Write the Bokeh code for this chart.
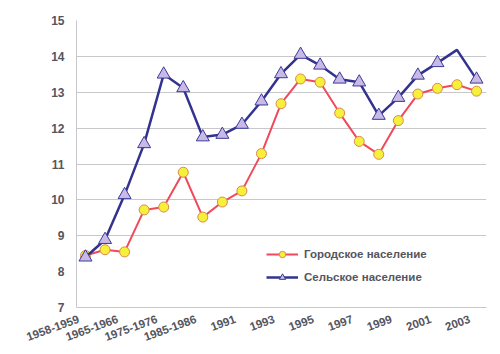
from bokeh.plotting import figure
from bokeh.models import FixedTicker, Legend, LegendItem, ColumnDataSource, Range1d
from bokeh.embed import file_html
from bokeh.resources import INLINE

periods = ["1958-1959", "", "1965-1966", "", "1975-1976", "", "1985-1986", "",
           "1991", "", "1993", "", "1995", "", "1997", "", "1999", "", "2001", "", "2003"]
urban = [8.45, 8.61, 8.55, 9.72, 9.80, 10.77, 9.52, 9.94, 10.25, 11.29, 12.68,
         13.37, 13.28, 12.42, 11.63, 11.27, 12.21, 12.95, 13.11, 13.21, 13.03]
rural = [8.40, 8.89, 10.14, 11.56, 13.50, 13.12, 11.75, 11.82, 12.10, 12.75, 13.51,
         14.05, 13.75, 13.36, 13.28, 12.35, 12.85, 13.47, 13.82, 14.18, 13.36]
rural_marked = [True] * 19 + [False, True]
y_ticks = [7, 8, 9, 10, 11, 12, 13, 14, 15]
series_names = ["Городское население", "Сельское население"]

x = list(range(len(periods)))
src = ColumnDataSource(dict(x=x, urban=urban, rural=rural))
mx = [xi for xi, m in zip(x, rural_marked) if m]
mr = [r for r, m in zip(rural, rural_marked) if m]
msrc = ColumnDataSource(dict(x=mx, rural=mr))

TXT = "#555560"
FONT = "Liberation Sans"
LABEL_SHIFT = 0.35  # rotated labels sit a little left of their point

p = figure(width=500, height=354, output_backend="svg", toolbar_location=None,
           x_range=Range1d(-0.46, 20.51), y_range=Range1d(7, 15),
           min_border_left=76, min_border_right=14, min_border_top=20, min_border_bottom=47)
p.outline_line_color = None
p.background_fill_color = "white"

p.xgrid.grid_line_color = None
p.ygrid.ticker = FixedTicker(ticks=y_ticks[2:])
p.ygrid.grid_line_color = "#c8c8cc"
p.ygrid.grid_line_width = 1.2

p.yaxis.ticker = FixedTicker(ticks=y_ticks)
p.yaxis.axis_line_color = "#c8c8cc"
p.yaxis.major_tick_line_color = None
p.yaxis.minor_tick_line_color = None
p.yaxis.major_label_standoff = 6
p.yaxis.major_label_text_font = FONT
p.yaxis.major_label_text_font_style = "bold"
p.yaxis.major_label_text_font_size = "12px"
p.yaxis.major_label_text_color = TXT

ticks = [i for i, l in enumerate(periods) if l]
tick_pos = [round(i - LABEL_SHIFT, 2) for i in ticks]
p.xaxis.ticker = FixedTicker(ticks=tick_pos)
p.xaxis.major_label_overrides = {tp: periods[i] for tp, i in zip(tick_pos, ticks)}
p.xaxis.major_label_orientation = 0.35
p.xaxis.axis_line_color = "#c8c8cc"
p.xaxis.axis_line_width = 1.2
p.xaxis.major_tick_line_color = None
p.xaxis.minor_tick_line_color = None
p.xaxis.major_label_standoff = 5
p.xaxis.major_label_text_font = FONT
p.xaxis.major_label_text_font_style = "bold"
p.xaxis.major_label_text_font_size = "11.5px"
p.xaxis.major_label_text_color = TXT

RED = "#f04a5a"
BLUE = "#33338f"

l1 = p.line("x", "urban", source=src, line_color=RED, line_width=2)
s1 = p.scatter("x", "urban", source=src, marker="circle", size=10,
               fill_color="#f6f03a", line_color="#d98a50", line_width=1)
l2 = p.line("x", "rural", source=src, line_color=BLUE, line_width=2.5)
s2 = p.scatter("x", "rural", source=msrc, marker="triangle", size=13,
               fill_color="#c9b9e6", line_color="#3a3a9a", line_width=1)

legend = Legend(items=[LegendItem(label=series_names[0], renderers=[l1, s1]),
                       LegendItem(label=series_names[1], renderers=[l2, s2])],
                location=(190, 22), orientation="vertical")
legend.border_line_color = None
legend.background_fill_color = "white"
legend.background_fill_alpha = 1
legend.padding = 2
legend.margin = 0
legend.spacing = 7
legend.glyph_width = 32
legend.glyph_height = 16
legend.label_standoff = 6
legend.label_text_font = FONT
legend.label_text_font_style = "bold"
legend.label_text_font_size = "11.5px"
legend.label_text_color = TXT
p.add_layout(legend, "center")

open("out.html", "w").write(file_html(p, INLINE))
